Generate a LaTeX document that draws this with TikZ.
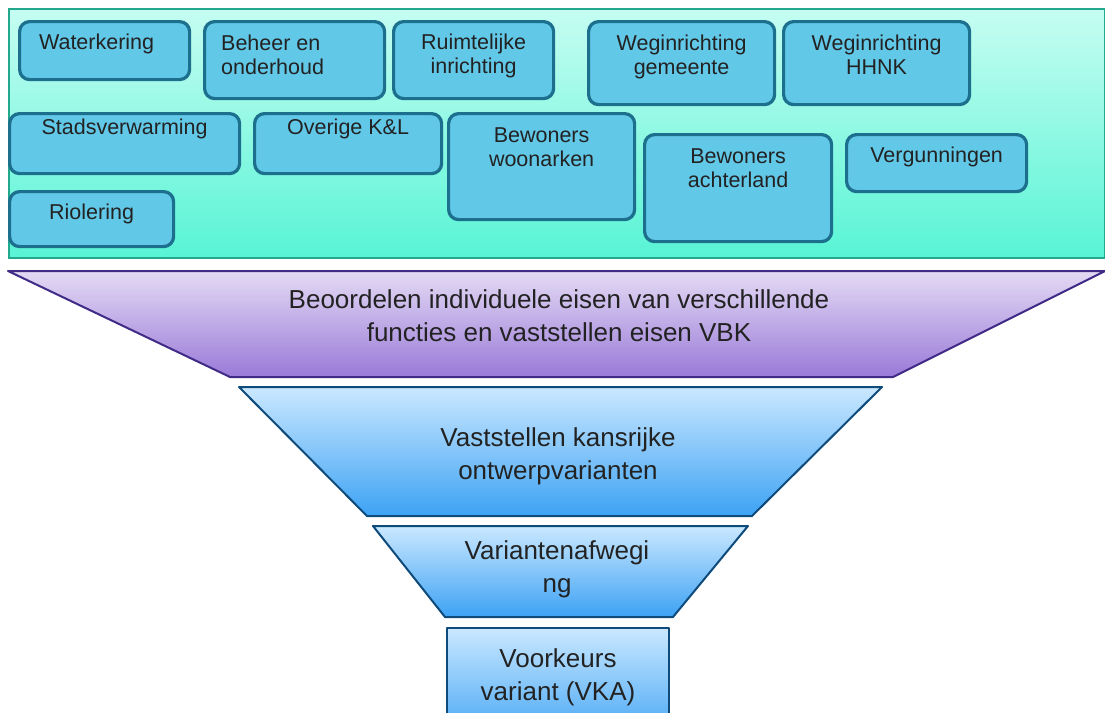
\documentclass[tikz,border=0pt]{standalone}
\usepackage{fontspec}
\setmainfont{Liberation Sans}
\usepackage{tikz}
\usetikzlibrary{calc,positioning}
\definecolor{PanelTop}{HTML}{C6FDF2}
\definecolor{PanelBottom}{HTML}{58F4D5}
\definecolor{PanelEdge}{HTML}{22A88C}
\definecolor{BoxFill}{HTML}{62C8E8}
\definecolor{BoxEdge}{HTML}{1C6F8D}
\definecolor{LilacTop}{HTML}{E3DAF4}
\definecolor{LilacBottom}{HTML}{9A7AD8}
\definecolor{LilacEdge}{HTML}{402B86}
\definecolor{SkyTop}{HTML}{CAE8FF}
\definecolor{SkyBottom}{HTML}{3DA2F4}
\definecolor{SkyEdge}{HTML}{0E4A7A}
\definecolor{TextInk}{HTML}{222222}

\begin{document}
\begin{tikzpicture}[x=1pt, y=-1pt, text=TextInk,
    font=\fontsize{21.5}{24}\selectfont,
    fnbox/.style={draw=BoxEdge, line width=3.2pt, fill=BoxFill, rounded corners=10pt,
      anchor=north west, inner sep=0pt},
    boxlabel/.style={anchor=north, inner sep=0pt},
    lilac/.style={draw=LilacEdge, line width=2pt, line join=round,
      top color=LilacTop, bottom color=LilacBottom},
    sky/.style={draw=SkyEdge, line width=2pt, line join=round,
      top color=SkyTop, bottom color=SkyBottom},
    funneltext/.style={font=\fontsize{26}{33}\selectfont, align=center, inner sep=0pt}]
  \useasboundingbox (0,0) rectangle (1105,712);

  % functies bovenin
  \node[draw=PanelEdge, line width=2pt, top color=PanelTop, bottom color=PanelBottom,
    minimum width=1096, minimum height=249, anchor=north west, inner sep=0pt] (functies) at (8,8) {};

  \foreach \nm/\xa/\ya/\xb/\yb/\dy/\dx/\al/\txt in {
      wk/18/20/188/78/14/-8/center/Waterkering,
      beheer/203/20/383/97/15/-22/left/{Beheer en\\onderhoud},
      ruimte/392/20/552/97/14/0/center/{Ruimtelijke\\inrichting},
      weggem/587/20/773/103/15/0/center/{Weginrichting\\gemeente},
      weghhnk/782/20/968/103/15/0/center/{Weginrichting\\HHNK},
      stads/8/112/238/172/7/0/center/Stadsverwarming,
      overige/253/112/440/172/7/0/center/{Overige K\&L},
      woonarken/447/112/633/218/16/0/center/{Bewoners\\woonarken},
      achterland/643/133/830/240/16/0/center/{Bewoners\\achterland},
      vergunning/845/133/1025/190/14/0/center/Vergunningen,
      riool/8/190/172/245/14/0/center/Riolering}{
    \node[fnbox, minimum width={\xb-\xa}, minimum height={\yb-\ya}] (\nm) at (\xa,\ya) {};
    \node[boxlabel, align=\al] (\nm-txt) at ([xshift=\dx pt, yshift=-\dy pt]\nm.north) {\txt};
  }

  % trechter
  \path[lilac] (8,271) -- (1105,271) -- (893,377) -- (230,377) -- cycle;
  \path[sky] (239,387) -- (882,387) -- (752,516) -- (367,516) -- cycle;
  \path[sky] (373,526) -- (748,526) -- (673,617) -- (445,617) -- cycle;
  \path[sky] (447,628) rectangle (669,745);

  \node[funneltext] (eisen) at (559,316) {Beoordelen individuele eisen van verschillende\\functies en vaststellen eisen VBK};
  \node[funneltext] (kansrijk) at (558,456) {Vaststellen kansrijke\\ontwerpvarianten};
  \node[funneltext] (afweging) at (557,569) {Variantenafwegi\\ng};
  \node[funneltext] (vka) at (558,677) {Voorkeurs\\variant (VKA)};
\end{tikzpicture}
\end{document}
